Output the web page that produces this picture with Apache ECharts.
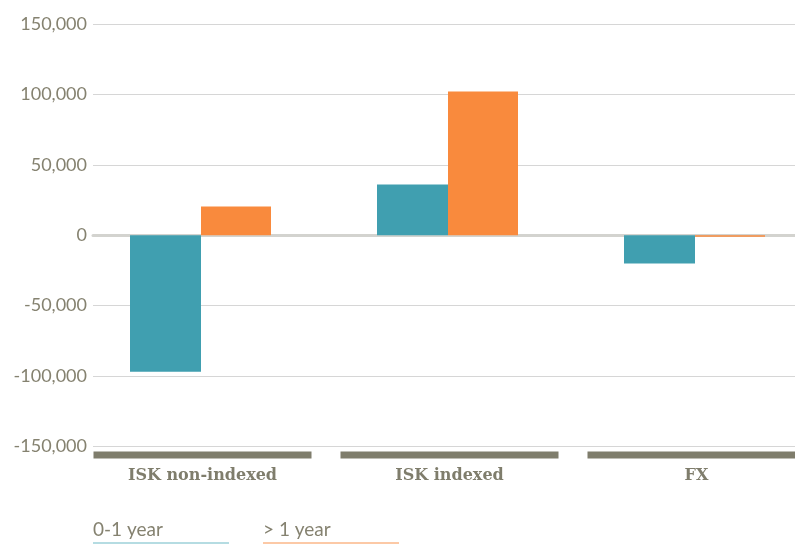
<!DOCTYPE html>
<html>
<head>
<meta charset="utf-8">
<script src="https://cdn.jsdelivr.net/npm/echarts@6/dist/echarts.min.js"></script>
<style>
  html, body { margin: 0; padding: 0; background: #fff; }
  #chart { width: 795px; height: 544px; }
</style>
</head>
<body>
<div id="chart"></div>
<script>
// Chart data
var categories = ['ISK non-indexed', 'ISK indexed', 'FX'];
var seriesNames = ['0-1 year', '> 1 year'];
var shortTerm = [-97000, 36000, -20000];
var longTerm = [20500, 102000, -1000];
var yTicks = { min: -150000, max: 150000, interval: 50000 };

var textColor = '#858270';
var bandColor = '#7f7d6c';
var colors = ['#409fb0', '#f98a3d'];
var underline = ['#b5dce2', '#fcc9a6'];

var chart = echarts.init(document.getElementById('chart'), null, { renderer: 'canvas' });

// legend item: text with a pale coloured line under it
function legendItem(i) {
  var rich = {
    t: { fontFamily: 'Lato', fontSize: 19, color: textColor, padding: [0, 0, 3, 0] },
    u: { backgroundColor: underline[i], width: 136, height: 2 }
  };
  return { name: seriesNames[i], textStyle: { rich: rich } };
}

var option = {
  animation: false,
  color: colors,
  legend: {
    left: 83,
    top: 515,
    itemWidth: 0,
    itemHeight: 0,
    itemGap: 29,
    selectedMode: false,
    icon: 'rect',
    formatter: function (name) { return '{t|' + name + '}\n{u|}'; },
    data: [legendItem(0), legendItem(1)]
  },
  grid: [
    // gridlines + y labels
    { left: 93, right: 0, top: 24, height: 422.5, outerBoundsMode: 'none' },
    // bars, category bands and labels (wider than the window, as in the source)
    { left: 77, width: 741, top: 24, height: 422.5, outerBoundsMode: 'none' }
  ],
  xAxis: [
    {
      gridIndex: 0,
      type: 'category',
      data: categories,
      axisLine: { onZero: true, lineStyle: { color: '#d3d3cf', width: 3 } },
      axisTick: { show: false },
      axisLabel: { show: false }
    },
    {
      gridIndex: 1,
      type: 'category',
      data: categories,
      axisLine: { show: false },
      axisTick: { show: false },
      axisLabel: {
        interval: 0,
        margin: 5,
        padding: [0, 0, 0, 4],
        formatter: function (v) { return '{bar|}\n{name|' + v + '}'; },
        rich: {
          bar: { backgroundColor: bandColor, width: 218, height: 7 },
          name: {
            fontFamily: 'DejaVu Serif',
            fontWeight: 'bold',
            fontSize: 16,
            color: bandColor,
            padding: [9, 0, 0, 0]
          }
        }
      }
    }
  ],
  yAxis: [
    {
      gridIndex: 0,
      type: 'value',
      min: yTicks.min,
      max: yTicks.max,
      interval: yTicks.interval,
      axisLine: { show: false },
      axisTick: { show: false },
      axisLabel: {
        margin: 6,
        fontFamily: 'Lato',
        fontSize: 18,
        color: textColor,
        formatter: function (v) { return v.toLocaleString('en-US'); }
      },
      splitLine: { lineStyle: { color: '#d6d6d6', width: 1 } }
    },
    {
      gridIndex: 1,
      type: 'value',
      min: yTicks.min,
      max: yTicks.max,
      interval: yTicks.interval,
      show: false,
      splitLine: { show: false }
    }
  ],
  series: [
    {
      name: seriesNames[0],
      type: 'bar',
      xAxisIndex: 1,
      yAxisIndex: 1,
      barWidth: 71,
      barGap: 0,
      z: 3,
      data: shortTerm
    },
    {
      name: seriesNames[1],
      type: 'bar',
      xAxisIndex: 1,
      yAxisIndex: 1,
      barWidth: 70,
      barGap: 0,
      z: 3,
      data: longTerm
    }
  ]
};

chart.setOption(option);
</script>
</body>
</html>
